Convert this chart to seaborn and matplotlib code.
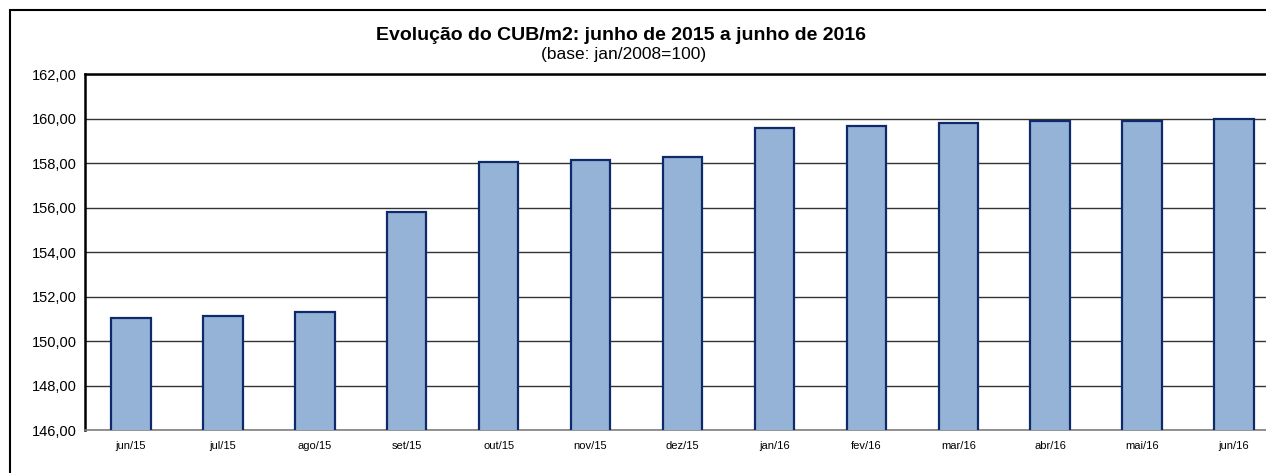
import matplotlib
matplotlib.use("Agg")
import matplotlib.pyplot as plt
import matplotlib.patches as mpatches
from matplotlib.ticker import FixedLocator, FuncFormatter
import seaborn as sns
import pandas as pd
import numpy as np

categories = ["jun/15", "jul/15", "ago/15", "set/15", "out/15", "nov/15", "dez/15",
              "jan/16", "fev/16", "mar/16", "abr/16", "mai/16", "jun/16"]
values = [151.05, 151.14, 151.29, 155.81, 158.03, 158.13, 158.25,
          159.58, 159.66, 159.80, 159.91, 159.91, 159.97]
yticks = [146, 148, 150, 152, 154, 156, 158, 160, 162]

sns.set_theme(style="white")
plt.rcParams["font.family"] = ["Liberation Sans", "DejaVu Sans"]

W, H = 1266, 473
fig = plt.figure(figsize=(W / 100, H / 100), dpi=100)
fig.patch.set_facecolor("white")

# axes: left 85px, right beyond figure (~1280px), top 74px, bottom 430px
left = 85 / W
right = 1280 / W
top = 1 - 74 / H
bottom = 1 - 430 / H
ax = fig.add_axes([left, bottom, right - left, top - bottom])

df = pd.DataFrame({"mes": categories, "valor": values})
sns.barplot(data=df, x="mes", y="valor", ax=ax, color="#95B3D7",
            edgecolor="#0E2A6B", linewidth=1.6, width=0.43, saturation=1,
            zorder=3)

ax.set_ylim(146, 162)
ax.set_xlim(-0.5, len(categories) - 0.5)
ax.yaxis.set_major_locator(FixedLocator(yticks))
ax.yaxis.set_major_formatter(FuncFormatter(lambda v, p: f"{v:.2f}".replace(".", ",")))
ax.grid(axis="y", color="#333333", linewidth=1.0, zorder=0)
ax.set_axisbelow(True)
ax.set_xlabel("")
ax.set_ylabel("")

# x ticks: labels at centres, tick marks at boundaries
ax.tick_params(axis="x", which="major", length=0, labelsize=8, pad=8, colors="#000000")
ax.xaxis.set_minor_locator(FixedLocator(np.arange(-0.5, len(categories), 1.0)))
ax.tick_params(axis="x", which="minor", length=4, width=1, color="#808080", direction="out")
ax.tick_params(axis="y", which="major", length=5, width=1, color="#000000",
               direction="out", labelsize=10.5, pad=1)
for lbl in ax.get_yticklabels():
    lbl.set_color("#000000")

for s in ["left", "top"]:
    ax.spines[s].set_color("#000000")
    ax.spines[s].set_linewidth(1.8)
ax.spines["bottom"].set_color("#808080")
ax.spines["bottom"].set_linewidth(1.2)
ax.spines["right"].set_visible(False)

# outer frame of the chart
frame = mpatches.Rectangle((10 / W, -0.2), 1.2, (1 - 10 / H) + 0.2,
                           transform=fig.transFigure, fill=False,
                           edgecolor="#000000", linewidth=1.5)
fig.patches.append(frame)

fig.text(621 / W, 1 - 35 / H, "Evolução do CUB/m2: junho de 2015 a junho de 2016",
         ha="center", va="center", fontsize=14, fontweight="bold", color="#000000")
fig.text(624 / W, 1 - 55 / H, "(base: jan/2008=100)",
         ha="center", va="center", fontsize=12.5, color="#000000")

fig.savefig("out.png", dpi=100)
